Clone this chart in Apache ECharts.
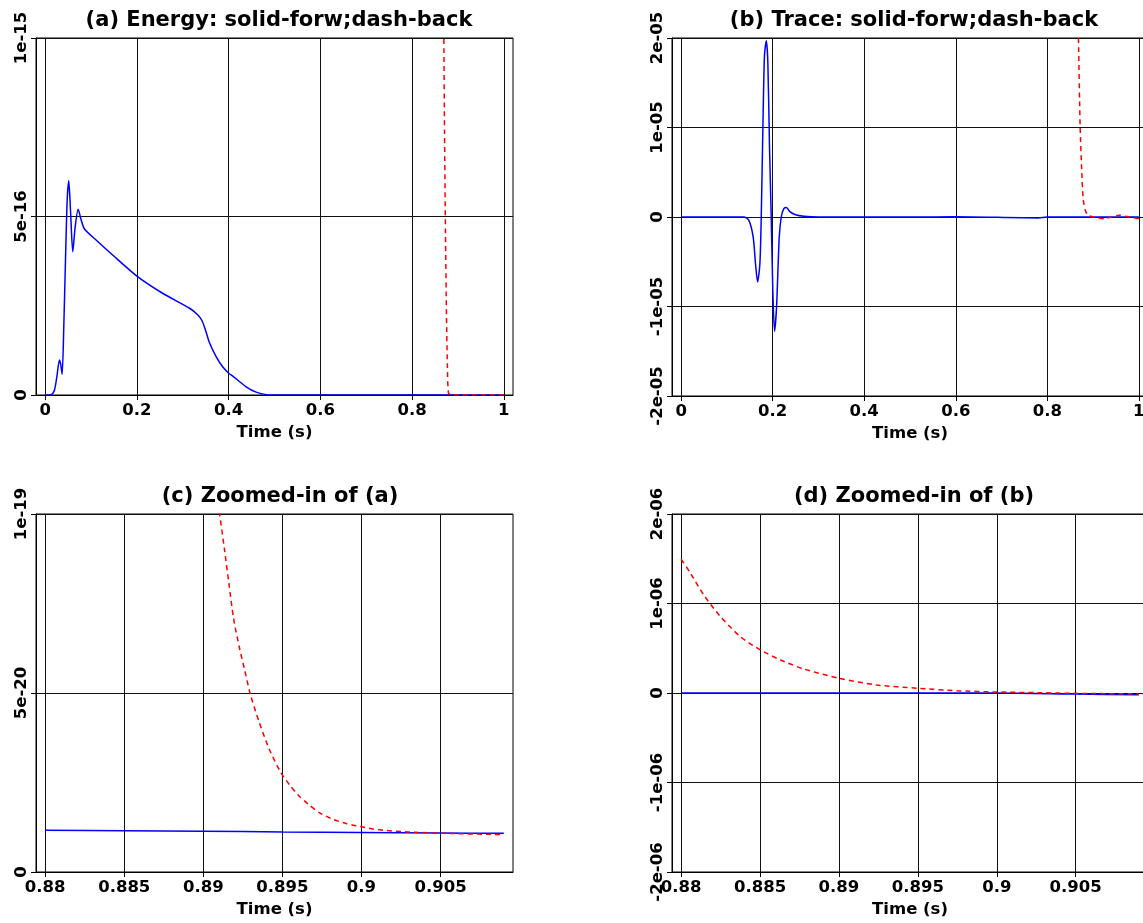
<!DOCTYPE html>
<html>
<head>
<meta charset="utf-8">
<script src="https://cdn.jsdelivr.net/npm/echarts@6/dist/echarts.min.js"></script>
<style>
html,body{margin:0;padding:0;background:#fff;}
#chart{width:1143px;height:923px;}
</style>
</head>
<body>
<div id="chart"></div>
<script>
// ---------- DATA ----------
// (a) Energy, forward (solid blue)
const timeA = [0, 0.013, 0.0203, 0.0254, 0.0312, 0.034, 0.037, 0.0406, 0.0443, 0.048, 0.0515, 0.0552, 0.0602, 0.0654, 0.072, 0.0785, 0.0857, 0.111, 0.147, 0.2, 0.256, 0.315, 0.333, 0.342, 0.3495, 0.358, 0.373, 0.387, 0.40, 0.409, 0.438, 0.46, 0.482, 0.5, 0.6, 0.8, 1.0];
const energyForw = [0, 1e-18, 1.4e-17, 5.1e-17, 9.8e-17, 8.5e-17, 5.8e-17, 1.91e-16, 3.78e-16, 5.46e-16, 6.0e-16, 5.18e-16, 4.01e-16, 4.71e-16, 5.2e-16, 4.9e-16, 4.65e-16, 4.34e-16, 3.92e-16, 3.33e-16, 2.85e-16, 2.43e-16, 2.24e-16, 2.08e-16, 1.82e-16, 1.47e-16, 1.07e-16, 7.9e-17, 6.1e-17, 5.3e-17, 2.3e-17, 8e-18, 1e-18, 3e-19, 5e-20, 0, 0];
// (a) Energy, backward (dashed red)
const timeAb = [0.866, 0.8692, 0.8707, 0.8728, 0.875, 0.877, 0.8793, 0.885, 0.9, 0.95, 1.0];
const energyBack = [1.4e-15, 1.0e-15, 7.34e-16, 4.54e-16, 2.19e-16, 8e-17, 5e-18, 3e-19, 1e-20, 0, 0];
// (b) Trace, forward (solid blue)
const timeB = [0, 0.137, 0.148, 0.1574, 0.1625, 0.167, 0.172, 0.175, 0.1785, 0.182, 0.186, 0.1894, 0.193, 0.1968, 0.2003, 0.204, 0.2084, 0.2143, 0.2187, 0.2244, 0.230, 0.2375, 0.25, 0.268, 0.3, 0.5, 0.6, 0.78, 0.8, 0.9, 1.0];
const traceForw = [0, 0, -3.7e-7, -2.25e-6, -5.25e-6, -7.25e-6, -5.25e-6, 0, 9.77e-6, 1.80e-5, 1.97e-5, 1.73e-5, 7.9e-6, 0, -8.26e-6, -1.277e-5, -1.01e-5, -2.25e-6, 0, 9.4e-7, 1.05e-6, 6e-7, 2.5e-7, 8e-8, 0, 0, 2e-8, -1e-7, 0, 0, 0];
// (b) Trace, backward (dashed red)
const timeBb = [0.866, 0.868, 0.8717, 0.8754, 0.878, 0.88, 0.884, 0.89, 0.9, 0.925, 0.94, 0.957, 0.975, 1.0];
const traceBack = [2.4e-5, 2.0e-5, 1.015e-5, 4.89e-6, 2.2e-6, 1.49e-6, 6e-7, 1.65e-7, 1e-8, -2e-7, 0, 2e-7, 5e-8, -2e-7];
// (c) Zoom of (a)
const timeC = [0.88, 0.885, 0.89, 0.895, 0.9, 0.905, 0.909];
const energyForwZoom = [1.167e-20, 1.155e-20, 1.14e-20, 1.12e-20, 1.105e-20, 1.09e-20, 1.08e-20];
const timeCb = [0.8905, 0.89103, 0.89134, 0.89162, 0.89191, 0.89229, 0.89259, 0.89297, 0.89352, 0.89415, 0.89487, 0.89546, 0.89599, 0.89662, 0.89736, 0.89821, 0.89906, 0.8999, 0.90074, 0.90159, 0.90254, 0.90338, 0.90518, 0.90877, 0.909];
const energyBackZoom = [1.13e-19, 9.98e-20, 9.0e-20, 8.05e-20, 7.09e-20, 6.25e-20, 5.69e-20, 4.97e-20, 4.2e-20, 3.45e-20, 2.8e-20, 2.43e-20, 2.15e-20, 1.9e-20, 1.65e-20, 1.47e-20, 1.35e-20, 1.27e-20, 1.2e-20, 1.16e-20, 1.13e-20, 1.11e-20, 1.08e-20, 1.05e-20, 1.05e-20];
// (d) Zoom of (b)
const timeD = [0.88, 0.895, 0.9, 0.905, 0.909];
const traceForwZoom = [0, 0, 0, -1.2e-8, -2e-8];
const timeDb = [0.88, 0.88057, 0.88141, 0.88247, 0.88373, 0.885, 0.88627, 0.88774, 0.89, 0.89238, 0.895, 0.89745, 0.9, 0.90253, 0.905, 0.909];
const traceBackZoom = [1.494e-6, 1.345e-6, 1.101e-6, 8.57e-7, 6.33e-7, 4.83e-7, 3.71e-7, 2.7e-7, 1.65e-7, 9e-8, 5.3e-8, 2.6e-8, 1.1e-8, 4e-9, -4e-9, -1e-8];

// Tick values and labels
const xTicksFull = [0, 0.2, 0.4, 0.6, 0.8, 1];
const xTicksZoom = [0.88, 0.885, 0.89, 0.895, 0.9, 0.905];
const yTicksA = [0, 5e-16, 1e-15];
const yTicksB = [-2e-5, -1e-5, 0, 1e-5, 2e-5];
const yTicksC = [0, 5e-20, 1e-19];
const yTicksD = [-2e-6, -1e-6, 0, 1e-6, 2e-6];

const titles = ['(a) Energy: solid-forw;dash-back', '(b) Trace: solid-forw;dash-back', '(c) Zoomed-in of (a)', '(d) Zoomed-in of (b)'];
const xName = 'Time (s)';

// ---------- CHART ----------
const FONT = 'DejaVu Sans';
const zip = (xs, ys) => xs.map((x, i) => [x, ys[i]]);
const xTickSets = [xTicksFull, xTicksFull, xTicksZoom, xTicksZoom];
const yTickSets = [yTicksA, yTicksB, yTicksC, yTicksD];
const xRanges = [[-0.02, 1.02], [-0.02, 1.02], [0.87942, 0.90958], [0.87942, 0.90958]];
const grids = [
  {left: 36, top: 38, width: 477, height: 357},
  {left: 672, top: 38, width: 476, height: 358},
  {left: 36, top: 514, width: 477, height: 358},
  {left: 672, top: 514, width: 476, height: 358}
];
const titlePos = [[274, 5], [909, 5], [275, 481], [909, 481]];

function expLabel(v) {
  if (v === 0) return '0';
  return v.toExponential(0).replace(/e([+-])(\d)$/, 'e$10$2');
}
function numLabel(v) {
  return String(+v.toFixed(4));
}

const axisLineStyle = {color: '#000', width: 1};
const labelFont = {fontFamily: FONT, fontSize: 16.5, fontWeight: 'bold', color: '#000'};
const xAxes = grids.map((g, i) => ({
  type: 'value', gridIndex: i,
  min: xRanges[i][0], max: xRanges[i][1],
  name: xName, nameLocation: 'middle', nameGap: 29,
  nameTextStyle: labelFont,
  axisLine: {show: true, onZero: false, lineStyle: axisLineStyle},
  axisTick: {show: true, length: 5, lineStyle: axisLineStyle, customValues: xTickSets[i]},
  axisLabel: Object.assign({margin: 7, customValues: xTickSets[i], formatter: numLabel}, labelFont),
  splitLine: {show: true, lineStyle: {color: '#111', width: 1}}
}));
const yAxes = grids.map((g, i) => {
  const t = yTickSets[i];
  return {
    type: 'value', gridIndex: i,
    min: t[0], max: t[t.length - 1], interval: t[1] - t[0],
    axisLine: {show: true, onZero: false, lineStyle: axisLineStyle},
    axisTick: {show: true, length: 5, lineStyle: axisLineStyle, customValues: t},
    axisLabel: Object.assign({margin: 6, rotate: 90, showMinLabel: true, showMaxLabel: true,
      customValues: t, formatter: expLabel}, labelFont),
    splitLine: {show: true, lineStyle: {color: '#111', width: 1}}
  };
});

const solid = {color: '#0000ff', width: 1.5, type: 'solid'};
const dashed = {color: '#ff0000', width: 1.5, type: [5, 4]};
function line(i, data, style) {
  return {type: 'line', xAxisIndex: i, yAxisIndex: i, data: data, showSymbol: false,
    smooth: 0.25, clip: true, lineStyle: style, itemStyle: {color: style.color},
    silent: true, animation: false};
}

const option = {
  backgroundColor: '#fff',
  animation: false,
  title: titles.map((t, i) => ({
    text: t, left: titlePos[i][0], top: titlePos[i][1], textAlign: 'center',
    textStyle: {fontFamily: FONT, fontSize: 21, fontWeight: 'bold', color: '#000'}
  })),
  grid: grids.map(g => Object.assign({show: true, borderColor: '#000', borderWidth: 1,
    backgroundColor: 'transparent', containLabel: false, outerBoundsMode: 'none'}, g)),
  xAxis: xAxes,
  yAxis: yAxes,
  series: [
    line(0, zip(timeA, energyForw), solid),
    line(0, zip(timeAb, energyBack), dashed),
    line(1, zip(timeB, traceForw), solid),
    line(1, zip(timeBb, traceBack), dashed),
    line(2, zip(timeC, energyForwZoom), solid),
    line(2, zip(timeCb, energyBackZoom), dashed),
    line(3, zip(timeD, traceForwZoom), solid),
    line(3, zip(timeDb, traceBackZoom), dashed)
  ]
};
const chart = echarts.init(document.getElementById('chart'), null, {renderer: 'canvas'});
chart.setOption(option);
</script>
</body>
</html>
